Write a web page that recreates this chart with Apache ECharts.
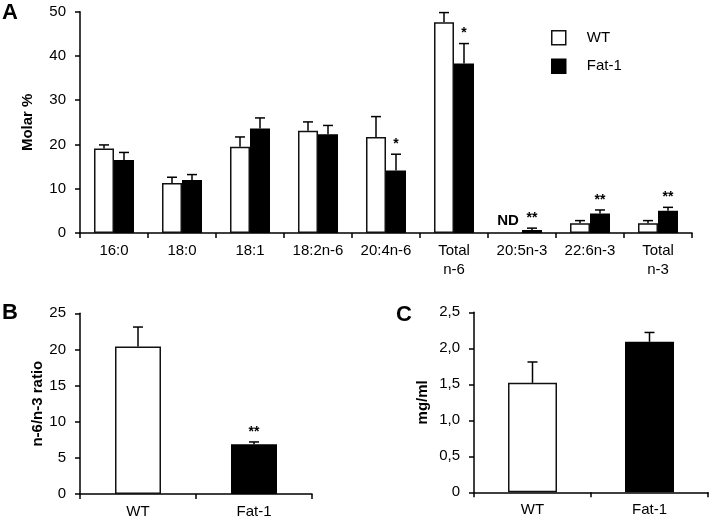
<!DOCTYPE html>
<html>
<head>
<meta charset="utf-8">
<script src="https://cdn.jsdelivr.net/npm/echarts@6/dist/echarts.min.js"></script>
<style>html,body{margin:0;padding:0;background:#fff}#c{width:711px;height:521px}</style>
</head>
<body>
<div id="c"></div>
<script>
// ---- Panel A data ----
var categoriesA = ['16:0', '18:0', '18:1', '18:2n-6', '20:4n-6', 'Total\nn-6', '20:5n-3', '22:6n-3', 'Total\nn-3'];
var wtMeanA  = [19.1, 11.3, 19.5, 23.1, 21.7, 47.6, null, 2.2, 2.2];
var wtErrA   = [0.8, 1.3, 2.2, 2.0, 4.6, 2.2, null, 0.6, 0.6];
var fatMeanA = [16.5, 12.0, 23.6, 22.3, 14.1, 38.3, 0.7, 4.4, 5.0];
var fatErrA  = [1.7, 1.2, 2.4, 2.0, 3.7, 4.5, 0.4, 0.8, 0.8];
var wtNoteA  = ['', '', '', '', '', '', 'ND', '', ''];
var fatSigA  = ['', '', '', '', '*', '*', '**', '**', '**'];
var yTicksA  = [0, 10, 20, 30, 40, 50];
// ---- Panel B data ----
var groupsB    = ['WT', 'Fat-1'];
var ratioMean  = [20.4, 6.9];
var ratioErr   = [2.7, 0.3];
var ratioSig   = ['', '**'];
var yTicksB    = [0, 5, 10, 15, 20, 25];
// ---- Panel C data ----
var groupsC    = ['WT', 'Fat-1'];
var concMean   = [1.52, 2.09];
var concErr    = [0.29, 0.13];
var concSig    = ['', ''];
var yTicksC    = ['0', '0,5', '1,0', '1,5', '2,0', '2,5'];

var FONT = 'Liberation Sans, Arial, sans-serif';
var WT_STYLE  = {color: '#ffffff', borderColor: '#111', borderWidth: 1.5};
var FAT_STYLE = {color: '#000000', borderColor: '#000', borderWidth: 1.5};

function errData(means, errs) {
  return means.map(function (m, i) {
    return [i, m == null ? null : m + errs[i], m == null ? null : m];
  });
}

function makeErrRender(offset, notes) {
  return function (params, api) {
    var idx = params.dataIndex;
    var top = api.value(1);
    var mean = api.value(2);
    var note = notes[idx] || '';
    var children = [];
    if (mean != null && !isNaN(mean) && top != null && !isNaN(top)) {
      var p1 = api.coord([idx, mean]);
      var p2 = api.coord([idx, top]);
      var x = p1[0] + offset;
      children.push({type: 'line', shape: {x1: x, y1: p1[1], x2: x, y2: p2[1]},
        style: {stroke: '#000', lineWidth: 1.5}});
      children.push({type: 'line', shape: {x1: x - 5, y1: p2[1], x2: x + 5, y2: p2[1]},
        style: {stroke: '#000', lineWidth: 1.5}});
      if (note) {
        children.push({type: 'text', x: x, y: p2[1] - 3,
          style: {text: note, fill: '#000', fontSize: 14, fontWeight: 'bold', fontFamily: FONT, align: 'center', verticalAlign: 'bottom'}});
      }
    } else if (note) {
      var p0 = api.coord([idx, 0]);
      children.push({type: 'text', x: p0[0] + offset - 4, y: p0[1] - 5,
        style: {text: note, fill: '#000', fontSize: 15, fontWeight: 'bold', fontFamily: FONT, align: 'center', verticalAlign: 'bottom'}});
    }
    return {type: 'group', children: children};
  };
}

function axisCommon() {
  return {
    axisLine: {show: true, lineStyle: {color: '#000', width: 1.5}},
    axisTick: {show: true, length: 5, lineStyle: {color: '#000', width: 1.5}},
    axisLabel: {color: '#000', fontSize: 15, fontFamily: FONT},
    splitLine: {show: false}
  };
}

function xAx(gi, cats) {
  var a = axisCommon();
  a.type = 'category'; a.gridIndex = gi; a.data = cats;
  a.axisTick.alignWithLabel = false; a.axisTick.interval = 0;
  a.axisLabel.interval = 0; a.axisLabel.margin = 8; a.axisLabel.lineHeight = 19;
  return a;
}
function yAx(gi, min, max, interval, name, gap, fmt) {
  var a = axisCommon();
  a.type = 'value'; a.gridIndex = gi; a.min = min; a.max = max; a.interval = interval;
  a.axisLabel.margin = 14;
  if (fmt) a.axisLabel.formatter = fmt;
  a.name = name; a.nameLocation = 'middle'; a.nameGap = gap;
  a.nameTextStyle = {color: '#000', fontSize: 15, fontWeight: 'bold', fontFamily: FONT};
  return a;
}

var option = {
  animation: false,
  backgroundColor: '#fff',
  textStyle: {fontFamily: FONT},
  grid: [
    {left: 80, right: 19, top: 11.7, bottom: 288},
    {left: 80, right: 399, top: 313.3, bottom: 27},
    {left: 474, right: 3, top: 312.3, bottom: 28.7}
  ],
  xAxis: [xAx(0, categoriesA), xAx(1, groupsB), xAx(2, groupsC)],
  yAxis: [
    yAx(0, yTicksA[0], yTicksA[yTicksA.length - 1], yTicksA[1] - yTicksA[0], 'Molar %', 45),
    yAx(1, yTicksB[0], yTicksB[yTicksB.length - 1], yTicksB[1] - yTicksB[0], 'n-6/n-3 ratio', 35),
    yAx(2, 0, 2.5, 0.5, 'mg/ml', 44, function (v) { return yTicksC[Math.round(v / 0.5)]; })
  ],
  legend: {
    orient: 'vertical', left: 546, top: 25, itemWidth: 14, itemHeight: 14, itemGap: 13,
    icon: 'rect',
    textStyle: {color: '#000', fontSize: 15, fontFamily: FONT, width: 33, align: 'center', padding: [0, 0, 0, 16]},
    data: [
      {name: 'WT', itemStyle: WT_STYLE},
      {name: 'Fat-1', itemStyle: FAT_STYLE}
    ]
  },
  graphic: [
    {type: 'text', left: 2, top: 2, style: {text: 'A', font: 'bold 22px ' + FONT, fill: '#000'}},
    {type: 'text', left: 2, top: 302, style: {text: 'B', font: 'bold 22px ' + FONT, fill: '#000'}},
    {type: 'text', left: 396, top: 304, style: {text: 'C', font: 'bold 22px ' + FONT, fill: '#000'}}
  ],
  series: [
    {name: 'WT', type: 'bar', xAxisIndex: 0, yAxisIndex: 0, data: wtMeanA, barWidth: 20, barGap: '0%', itemStyle: WT_STYLE},
    {name: 'Fat-1', type: 'bar', xAxisIndex: 0, yAxisIndex: 0, data: fatMeanA, barWidth: 20, barGap: '0%', itemStyle: FAT_STYLE},
    {type: 'custom', xAxisIndex: 0, yAxisIndex: 0, z: 5, renderItem: makeErrRender(-10, wtNoteA),
      data: errData(wtMeanA, wtErrA), encode: {x: 0, y: 1}},
    {type: 'custom', xAxisIndex: 0, yAxisIndex: 0, z: 5, renderItem: makeErrRender(10, fatSigA),
      data: errData(fatMeanA, fatErrA), encode: {x: 0, y: 1}},
    {name: 'ratio', type: 'bar', xAxisIndex: 1, yAxisIndex: 1, barWidth: 46,
      data: ratioMean.map(function (v, i) { return {value: v, itemStyle: i === 0 ? WT_STYLE : FAT_STYLE}; })},
    {type: 'custom', xAxisIndex: 1, yAxisIndex: 1, z: 5, renderItem: makeErrRender(0, ratioSig),
      data: errData(ratioMean, ratioErr), encode: {x: 0, y: 1}},
    {name: 'conc', type: 'bar', xAxisIndex: 2, yAxisIndex: 2, barWidth: 49,
      data: concMean.map(function (v, i) { return {value: v, itemStyle: i === 0 ? WT_STYLE : FAT_STYLE}; })},
    {type: 'custom', xAxisIndex: 2, yAxisIndex: 2, z: 5, renderItem: makeErrRender(0, concSig),
      data: errData(concMean, concErr), encode: {x: 0, y: 1}}
  ]
};
echarts.init(document.getElementById('c'), null, {renderer: 'canvas'}).setOption(option);
</script>
</body>
</html>
